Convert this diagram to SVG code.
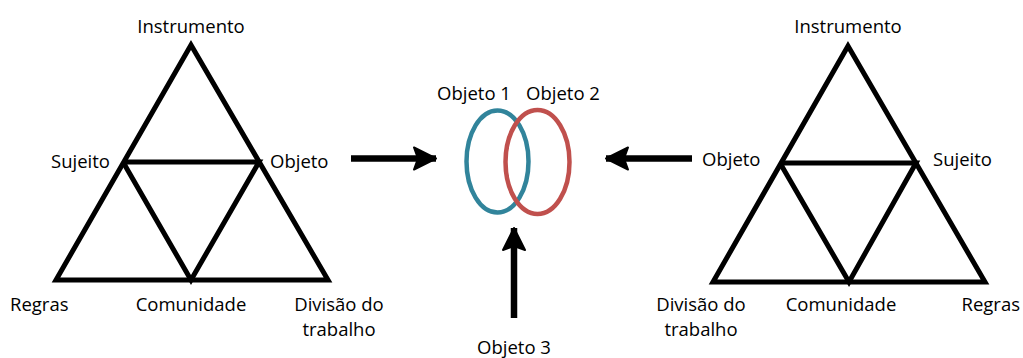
<svg xmlns="http://www.w3.org/2000/svg" width="1023" height="358" viewBox="0 0 1023 358">
<style>
text{font-family:"Open Sans","Noto Sans","DejaVu Sans",sans-serif;font-size:18.5px;fill:#000}
.tri{fill:none;stroke:#000;stroke-width:5;stroke-linejoin:miter}
.ln{stroke:#000;stroke-width:5;fill:none}
.shaft{stroke:#000;stroke-width:6.5;fill:none}
</style>
<defs>
<marker id="ah" viewBox="0 0 26 26" refX="24" refY="13" markerWidth="26" markerHeight="26" markerUnits="userSpaceOnUse" orient="auto">
<path d="M2,2 L24,13 L2,24 L6,13 Z" fill="#000" stroke="#000" stroke-width="2" stroke-linejoin="round"/>
</marker>
</defs>
<g id="left-triangle">
<polygon class="tri" points="191,45 56,280 328,280"/>
<polyline class="ln" points="123,162 259,162 191,280 123,162"/>
<text x="191" y="33" text-anchor="middle">Instrumento</text>
<text x="110" y="168" text-anchor="end">Sujeito</text>
<text x="270" y="168">Objeto</text>
<text x="10" y="311">Regras</text>
<text x="191" y="311" text-anchor="middle">Comunidade</text>
<text x="339" y="311" text-anchor="middle">Divisão do</text>
<text x="339" y="336" text-anchor="middle">trabalho</text>
</g>
<g id="right-triangle">
<polygon class="tri" points="848,46 713,282 985,282"/>
<polyline class="ln" points="780,163 916,163 849,282 780,163"/>
<text x="848" y="33" text-anchor="middle">Instrumento</text>
<text x="702" y="166">Objeto</text>
<text x="933" y="166">Sujeito</text>
<text x="701" y="311" text-anchor="middle">Divisão do</text>
<text x="701" y="336" text-anchor="middle">trabalho</text>
<text x="841" y="311" text-anchor="middle">Comunidade</text>
<text x="1020" y="311" text-anchor="end">Regras</text>
</g>
<g id="objects">
<ellipse cx="497.5" cy="161.5" rx="31" ry="51" fill="none" stroke="#31849B" stroke-width="4.5"/>
<ellipse cx="537.5" cy="162" rx="32" ry="52" fill="none" stroke="#C0504D" stroke-width="4.5"/>
<text x="474" y="100" text-anchor="middle">Objeto 1</text>
<text x="563" y="100" text-anchor="middle">Objeto 2</text>
<text x="514" y="354" text-anchor="middle">Objeto 3</text>
</g>
<g id="connectors">
<line class="shaft" x1="351" y1="158.5" x2="436" y2="158.5" marker-end="url(#ah)"/>
<line class="shaft" x1="692" y1="158.5" x2="606" y2="158.5" marker-end="url(#ah)"/>
<line class="shaft" x1="514" y1="318" x2="514" y2="228" marker-end="url(#ah)"/>
</g>
</svg>
